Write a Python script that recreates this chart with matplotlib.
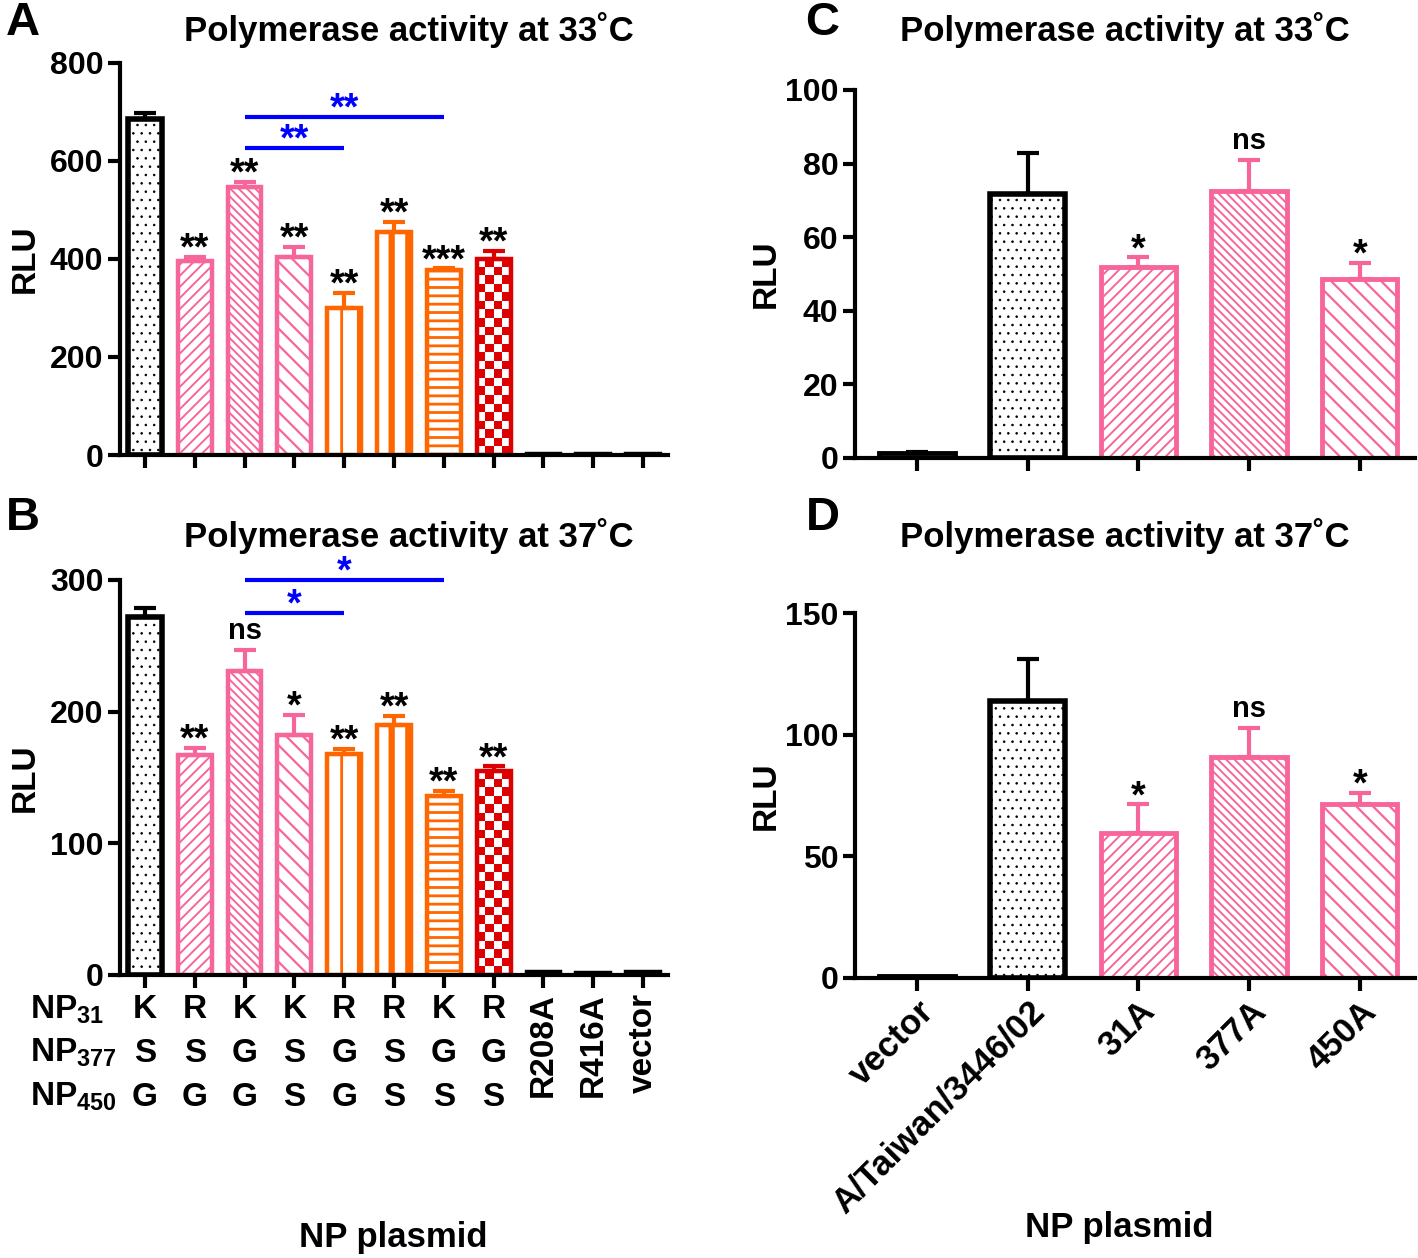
import numpy as np
import matplotlib
matplotlib.use("Agg")
import matplotlib.pyplot as plt
from matplotlib.colors import ListedColormap
from matplotlib.transforms import blended_transform_factory

plt.rcParams['font.family'] = ['Liberation Sans', 'DejaVu Sans']
plt.rcParams['font.weight'] = 'bold'
plt.rcParams['mathtext.fontset'] = 'custom'
plt.rcParams['mathtext.bf'] = 'Liberation Sans:bold'
plt.rcParams['mathtext.rm'] = 'Liberation Sans:bold'

# ---- data ----
ab_labels = ['', '', '', '', '', '', '', '', 'R208A', 'R416A', 'vector']
np31 = ['K', 'R', 'K', 'K', 'R', 'R', 'K', 'R']
np377 = ['S', 'S', 'G', 'S', 'G', 'S', 'G', 'G']
np450 = ['G', 'G', 'G', 'S', 'G', 'S', 'S', 'S']

a_vals = [685, 396, 546, 404, 300, 456, 378, 400, 3, 2, 2]
a_err = [12, 8, 11, 20, 31, 19, 3, 16, 0, 0, 0]
a_sig = ['', '**', '**', '**', '**', '**', '***', '**', '', '', '']

b_vals = [272, 167, 231, 182, 168, 190, 136, 155, 2, 1.5, 2]
b_err = [7, 5.5, 16, 15.5, 3.5, 7, 4, 3.5, 0, 0, 0]
b_sig = ['', '**', 'ns', '*', '**', '**', '**', '**', '', '', '']

cd_labels = ['vector', 'A/Taiwan/3446/02', '31A', '377A', '450A']
c_vals = [1.2, 71.7, 52, 72.6, 48.5]
c_err = [0.5, 11.1, 2.5, 8.4, 4.5]
c_sig = ['', '', '*', 'ns', '*']

d_vals = [1, 114, 59.4, 91, 71.7]
d_err = [0, 17.3, 12, 11.7, 4.3]
d_sig = ['', '', '*', 'ns', '*']

# blue comparison brackets: (from bar, to bar, height, label)
a_brackets = [(2, 4, 626, '**'), (2, 6, 690, '**')]
b_brackets = [(2, 4, 275, '*'), (2, 6, 300, '*')]

BLACK = '#000000'
PINK = '#F7669A'
ORANGE = '#FF6600'
RED = '#DD0000'
BLUE = '#0000FF'

# style of each bar: (colour, hatch, hatch linewidth, edge width)
ab_style = [(BLACK, '..', 0.6, 4.0), (PINK, '///', 1.4, 3.2), (PINK, '\\\\\\\\', 1.4, 3.2),
            (PINK, '\\\\', 1.6, 3.2), (ORANGE, '|', 2.0, 3.2), (ORANGE, '|', 4.5, 3.2),
            (ORANGE, '--', 2.0, 3.2), (RED, 'checker', 0, 3.2), (BLACK, '', 0, 3.2),
            (BLACK, '', 0, 3.2), (BLACK, '', 0, 3.2)]
cd_style = [(BLACK, '', 0, 3.5), (BLACK, '..', 0.6, 4.0), (PINK, '///', 1.4, 3.5),
            (PINK, '\\\\\\\\', 1.4, 3.5), (PINK, '\\\\', 1.6, 3.5)]

fig = plt.figure(figsize=(14.18, 12.58), dpi=100)
axA = fig.add_axes([0.0846, 0.6383, 0.3865, 0.3117])
axB = fig.add_axes([0.0846, 0.2250, 0.3865, 0.3140])
axC = fig.add_axes([0.6030, 0.6360, 0.3950, 0.2925])
axD = fig.add_axes([0.6030, 0.2226, 0.3950, 0.2901])


def checker(ax, x, w, h, ymax):
    # checkerboard fill clipped to the bar
    ax_h_px = ax.get_position().height * fig.get_figheight() * fig.dpi
    n_rows = max(1, int(round(h / ymax * ax_h_px / 8.5)))
    n_cols = 4
    board = (np.add.outer(np.arange(n_rows), np.arange(n_cols)) % 2)
    ax.imshow(board, cmap=ListedColormap(['white', RED]), aspect='auto',
              extent=(x - w / 2, x + w / 2, 0, h), interpolation='nearest',
              zorder=1.5)


def panel(ax, vals, errs, sigs, styles, ymax, yticks, width, xlim):
    x = np.arange(len(vals))
    for i, (v, e, s) in enumerate(zip(vals, errs, sigs)):
        col, hatch, hlw, elw = styles[i]
        if hatch == 'checker':
            checker(ax, x[i], width, v, ymax)
            ax.bar(x[i], v, width, facecolor='none', edgecolor=col,
                   linewidth=elw, zorder=2)
        else:
            with plt.rc_context({'hatch.linewidth': hlw if hlw else 1.0}):
                b = ax.bar(x[i], v, width, facecolor='white', edgecolor=col,
                           hatch=hatch if hatch else None, linewidth=elw, zorder=2)
            if hatch and hasattr(b[0], 'set_hatch_linewidth'):
                b[0].set_hatch_linewidth(hlw)
        if e > 0:
            ax.errorbar(x[i], v, yerr=[[0], [e]], fmt='none', ecolor=col,
                        elinewidth=3, capsize=8, capthick=3, zorder=3)
        if s:
            if s == 'ns':
                ax.annotate(s, (x[i], v + e), xytext=(0, 8),
                            textcoords='offset points', ha='center',
                            va='baseline', fontsize=21, fontweight='bold',
                            annotation_clip=False)
            else:
                ax.annotate(s, (x[i], v + e), xytext=(0, -2),
                            textcoords='offset points', ha='center',
                            va='baseline', fontsize=27, fontweight='bold',
                            annotation_clip=False)
    ax.set_xlim(*xlim)
    ax.set_ylim(0, ymax)
    ax.set_yticks(yticks)
    ax.set_xticks(x)
    for sp in ['top', 'right']:
        ax.spines[sp].set_visible(False)
    for sp in ['left', 'bottom']:
        ax.spines[sp].set_linewidth(3)
    ax.tick_params(axis='both', width=3, length=9, labelsize=23, pad=3)
    ax.set_ylabel('RLU', fontsize=24, fontweight='bold')
    for lab in ax.get_yticklabels():
        lab.set_fontweight('bold')


panel(axA, a_vals, a_err, a_sig, ab_style, 800, [0, 200, 400, 600, 800],
      0.68, (-0.5, 10.5))
panel(axB, b_vals, b_err, b_sig, ab_style, 300, [0, 100, 200, 300],
      0.68, (-0.5, 10.5))
panel(axC, c_vals, c_err, c_sig, cd_style, 100, [0, 20, 40, 60, 80, 100],
      0.68, (-0.56, 4.5))
panel(axD, d_vals, d_err, d_sig, cd_style, 150, [0, 50, 100, 150],
      0.68, (-0.56, 4.5))

for ax, brackets in [(axA, a_brackets), (axB, b_brackets)]:
    for x0, x1, h, s in brackets:
        ax.plot([x0, x1], [h, h], color=BLUE, lw=3, clip_on=False,
                solid_capstyle='butt')
        ax.annotate(s, ((x0 + x1) / 2, h), xytext=(0, -2),
                    textcoords='offset points', ha='center', va='baseline',
                    fontsize=27, fontweight='bold', color=BLUE,
                    annotation_clip=False)

axA.set_xticklabels([])
axC.set_xticklabels([])
axB.set_xticklabels([])
axD.set_xticklabels(cd_labels, rotation=45, ha='right',
                    rotation_mode='anchor', fontsize=25, fontweight='bold')

axA.yaxis.set_label_coords(-0.145, 0.5)
axB.yaxis.set_label_coords(-0.145, 0.5)
axC.yaxis.set_label_coords(-0.13, 0.5)
axD.yaxis.set_label_coords(-0.13, 0.5)

# titles and panel letters
fig.text(0.288, 0.976, 'Polymerase activity at 33˚C', ha='center', va='center', fontsize=25, fontweight='bold')
fig.text(0.288, 0.574, 'Polymerase activity at 37˚C', ha='center', va='center', fontsize=25, fontweight='bold')
fig.text(0.793, 0.976, 'Polymerase activity at 33˚C', ha='center', va='center', fontsize=25, fontweight='bold')
fig.text(0.793, 0.574, 'Polymerase activity at 37˚C', ha='center', va='center', fontsize=25, fontweight='bold')
for lx, ly, letter in [(0.016, 0.982, 'A'), (0.016, 0.588, 'B'),
                       (0.580, 0.982, 'C'), (0.580, 0.588, 'D')]:
    fig.text(lx, ly, letter, ha='center', va='center', fontsize=34, fontweight='bold')

# amino acid table under panel B
row_y = [1010, 1053, 1097]
row_names = [('31', np31), ('377', np377), ('450', np450)]
tb = blended_transform_factory(axB.transData, fig.transFigure)
for (sub, letters), py in zip(row_names, row_y):
    fy = 1 - py / 1258
    fig.text(0.021, fy, r'NP$_{\mathbf{' + sub + '}}$', ha='left', va='center',
             fontsize=24, fontweight='bold')
    for i, letter in enumerate(letters):
        axB.text(i, fy, letter, transform=tb, ha='center', va='center',
                 fontsize=24, fontweight='bold')
for i, lab in enumerate(ab_labels):
    if lab:
        axB.text(i, 1 - 993 / 1258, lab, transform=tb, ha='center', va='top',
                 rotation=90, fontsize=24, fontweight='bold')

fig.text(0.277, 0.016, 'NP plasmid', ha='center', va='center', fontsize=25, fontweight='bold')
fig.text(0.789, 0.024, 'NP plasmid', ha='center', va='center', fontsize=25, fontweight='bold')

fig.savefig('out.png', dpi=100)
